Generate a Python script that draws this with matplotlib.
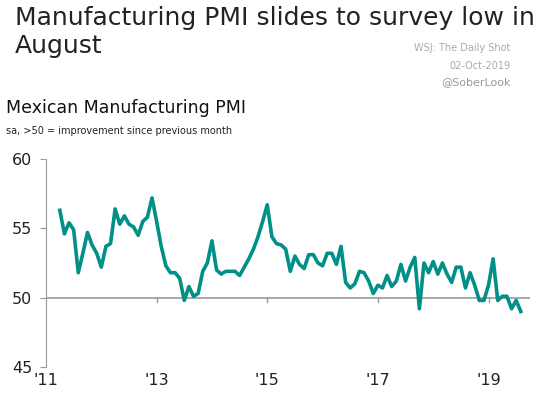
import numpy as np
import matplotlib
matplotlib.use('Agg')
import matplotlib.pyplot as plt

# Mexican manufacturing PMI, monthly Apr 2011 - Aug 2019
start_year = 2011 + 3 / 12.0
pmi = [56.3, 54.6, 55.4, 54.9, 51.8, 53.2, 54.7, 53.8, 53.2, 52.2,
       53.7, 53.9, 56.4, 55.3, 55.9, 55.3, 55.1, 54.5, 55.5, 55.8,
       57.2, 55.5, 53.7, 52.3, 51.8, 51.8, 51.4, 49.8, 50.8, 50.1,
       50.3, 51.9, 52.5, 54.1, 52.0, 51.7, 51.9, 51.9, 51.9, 51.6,
       52.2, 52.8, 53.5, 54.4, 55.5, 56.7, 54.4, 53.9, 53.8, 53.5,
       51.9, 53.0, 52.4, 52.1, 53.1, 53.1, 52.5, 52.3, 53.2, 53.2,
       52.4, 53.7, 51.1, 50.7, 51.0, 51.9, 51.8, 51.2, 50.3, 50.9,
       50.7, 51.6, 50.8, 51.2, 52.4, 51.2, 52.2, 52.9, 49.2, 52.5,
       51.8, 52.6, 51.7, 52.5, 51.7, 51.1, 52.2, 52.2, 50.7, 51.8,
       50.9, 49.8, 49.8, 50.9, 52.8, 49.8, 50.1, 50.1, 49.2, 49.8, 49.0]
years = [2011, 2013, 2015, 2017, 2019]
year_labels = ["'11", "'13", "'15", "'17", "'19"]
yticks = [45, 50, 55, 60]

x = start_year + np.arange(len(pmi)) / 12.0

fig = plt.figure(figsize=(5.36, 4.05), dpi=100)
ax = fig.add_axes([46 / 536, 1 - 367 / 405, 484 / 536, 208 / 405])

ax.axhline(50, color='#999999', lw=1.2, zorder=1)
ax.plot(x, pmi, color='#009088', lw=2.6, zorder=2)
ax.set_xlim(2011, 2019.75)
ax.set_ylim(45, 60)
for s in ['top', 'right', 'bottom']:
    ax.spines[s].set_visible(False)
ax.spines['left'].set_color('#999999')
ax.set_yticks(yticks)
ax.tick_params(axis='y', colors='#999999', labelcolor='#222222', labelsize=11.5, length=4, pad=6)
ax.set_xticks(years)
ax.set_xticklabels(year_labels)
ax.tick_params(axis='x', length=0, labelsize=11.5, labelcolor='#222222', pad=4)
# small ticks on the 50 line
for yr in years[1:]:
    ax.plot([yr, yr], [50, 49.7], color='#999999', lw=1, zorder=1)

# source stamp sits behind the title, as in the original
fig.text(0.953, 0.875, 'WSJ: The Daily Shot', fontsize=7, color='#aaaaaa', ha='right', zorder=1)
fig.text(0.953, 0.83, '02-Oct-2019', fontsize=7, color='#aaaaaa', ha='right', zorder=1)
fig.text(0.953, 0.79, '@SoberLook', fontsize=8, color='#999999', ha='right', zorder=1)
fig.text(0.028, 0.985, 'Manufacturing PMI slides to survey low in\nAugust', fontsize=18,
         va='top', ha='left', color='#222222', linespacing=1.2, zorder=3)
fig.text(0.012, 0.72, 'Mexican Manufacturing PMI', fontsize=12.5, color='#111111',
         ha='left', fontweight='medium')
fig.text(0.012, 0.668, 'sa, >50 = improvement since previous month', fontsize=7, color='#222222', ha='left')

fig.savefig('out.png', dpi=100)
